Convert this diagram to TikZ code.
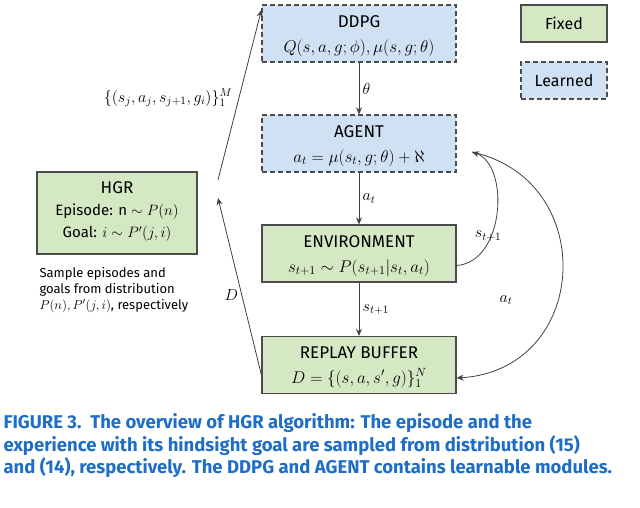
\RequirePackage{fix-cm}
\documentclass[tikz,border=0pt]{standalone}
\usepackage{amsmath}
\usepackage{fontspec}
\setmainfont{Fira Sans}
\usetikzlibrary{positioning,arrows.meta}
\definecolor{fixgreen}{RGB}{213,232,196}
\definecolor{learnblue}{RGB}{207,225,242}
\definecolor{capblue}{RGB}{30,110,200}
\tikzset{
  block/.style   = {shape=rectangle, draw=black!70, line width=1.2pt,
                    minimum width=194pt, minimum height=57pt, inner sep=2pt, align=center},
  fixed/.style   = {block, fill=fixgreen},
  learned/.style = {block, fill=learnblue, dashed, dash pattern=on 5pt off 3pt},
  title/.style   = {font=\fontsize{17}{20}\selectfont},
  lab/.style     = {font=\fontsize{17}{19}\selectfont},
  edgelab/.style = {font=\fontsize{16}{18}\selectfont},
  flow/.style    = {draw=black!75, line width=0.8pt, -{Stealth[length=7pt,width=6pt]}}
}
\begin{document}
\begin{tikzpicture}[x=1pt,y=-1pt]
  \useasboundingbox (0,0) rectangle (640,507);

  \node [learned] (ddpg) at (359,33.5) {};
  \node [title] at (359,22) {DDPG};
  \node [lab] at (359,48) {$Q(s,a,g;\phi),\mu(s,g;\theta)$};

  \node [learned] (agent) at (359,143.5) {};
  \node [title] at (359,132) {AGENT};
  \node [lab] at (359,158) {$a_t=\mu(s_t,g;\theta)+\aleph$};

  \node [fixed] (env) at (359,253.5) {};
  \node [title] at (359,242) {ENVIRONMENT};
  \node [lab] at (359,268) {$s_{t+1}\sim P(s_{t+1}|s_t,a_t)$};

  \node [fixed] (buffer) at (359,365) {};
  \node [title] at (359,353) {REPLAY BUFFER};
  \node [lab] at (359,378) {$D=\{(s,a,s',g)\}_1^N$};

  \node [fixed, minimum width=160pt, minimum height=82pt] (hgr) at (117,213) {};
  \node [title] at (117,188) {HGR};
  \node [font=\fontsize{15}{18}\selectfont] at (117,212) {Episode: n $\sim P(n)$};
  \node [font=\fontsize{15}{18}\selectfont] at (117,234) {Goal: $i\sim P'(j,i)$};

  \node [fixed, minimum width=86pt, minimum height=37pt] (fixbox) at (564,23.5) {\fontsize{16}{18}\selectfont Fixed};
  \node [learned, minimum width=86pt, minimum height=37pt] (learnbox) at (564,80.5) {\fontsize{16}{18}\selectfont Learned};

  \node [align=left, anchor=north west, font=\fontsize{13}{16}\selectfont] (note) at (36,264)
    {Sample episodes and\\goals from distribution\\$P(n),P'(j,i)$, respectively};

  % main flow
  \draw [flow] (ddpg) -- node [right, edgelab] {$\theta$} (agent);
  \draw [flow] (agent) -- node [right, edgelab] {$a_t$} (env);
  \draw [flow] (env) -- node [right, edgelab] {$s_{t+1}$} (buffer);
  \draw [flow] (env.east) ++(0,12) coordinate (e1)
    .. controls (505,262) and (510,165) .. (472,152) coordinate (a1);
  \node [edgelab] at (488,236) {$s_{t+1}$};
  \draw [flow] (472,152)
    .. controls (600,180) and (590,370) .. (buffer.east |- 0,378);
  \node [edgelab] at (506,300) {$a_t$};
  \draw [flow] (buffer.west |- 0,375) -- node [left, edgelab, pos=0.45] {$D$} (218,198);
  \draw [flow] (218,180) -- (ddpg.west |- 0,10);
  \node [edgelab] at (168,98) {$\{(s_j,a_j,s_{j+1},g_i)\}_1^M$};

  \node [anchor=north west, align=left, font=\fontsize{18.5}{22.5}\selectfont\bfseries, color=capblue] (cap) at (0,410)
    {FIGURE 3.\ \ The overview of HGR algorithm: The episode and the\\
     experience with its hindsight goal are sampled from distribution (15)\\
     and (14), respectively. The DDPG and AGENT contains learnable modules.};
\end{tikzpicture}
\end{document}
